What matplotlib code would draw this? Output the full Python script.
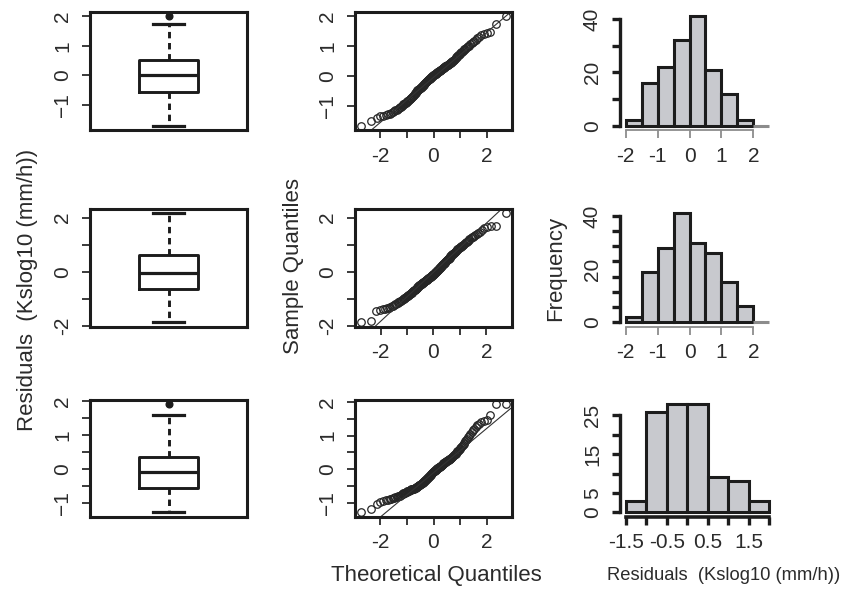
import statistics
import numpy as np
import matplotlib
matplotlib.use('Agg')
import matplotlib.pyplot as plt

plt.rcParams['font.family'] = ['Liberation Sans', 'DejaVu Sans']

res_1 = [-1.67, -1.52,
         -1.41, -1.36, -1.33, -1.31, -1.29, -1.27, -1.24, -1.21, -1.18, -1.15,
         -1.13, -1.10, -1.08, -1.06, -1.03, -1.01,
         -0.98, -0.96, -0.94, -0.92, -0.90, -0.88, -0.85, -0.83, -0.81, -0.79,
         -0.77, -0.75, -0.73, -0.71, -0.68, -0.66, -0.63, -0.61, -0.58, -0.56,
         -0.54, -0.52,
         -0.49, -0.48, -0.46, -0.45, -0.43, -0.42, -0.40, -0.38, -0.37, -0.35,
         -0.33, -0.32, -0.30, -0.28, -0.27, -0.25, -0.23, -0.22, -0.20, -0.18,
         -0.17, -0.15, -0.13, -0.12, -0.10, -0.09, -0.07, -0.06, -0.04, -0.03,
         -0.02, -0.01,
         0.01, 0.02, 0.03, 0.04, 0.05, 0.06, 0.07, 0.08, 0.10, 0.11, 0.12, 0.13,
         0.14, 0.15, 0.17, 0.18, 0.19, 0.20, 0.21, 0.22, 0.24, 0.25, 0.26, 0.27,
         0.28, 0.30, 0.31, 0.32, 0.33, 0.34, 0.36, 0.37, 0.38, 0.39, 0.41, 0.42,
         0.43, 0.45, 0.46, 0.48, 0.49,
         0.51, 0.53, 0.55, 0.57, 0.60, 0.62, 0.64, 0.67, 0.69, 0.71, 0.74, 0.76,
         0.79, 0.81, 0.84, 0.86, 0.89, 0.91, 0.94, 0.96, 0.99,
         1.02, 1.06, 1.10, 1.14, 1.18, 1.22, 1.27, 1.32, 1.38, 1.42, 1.45, 1.48,
         1.75, 2.00]

res_2 = [-1.85, -1.81,
         -1.44, -1.41, -1.37, -1.35, -1.34, -1.32, -1.29, -1.27, -1.24, -1.22,
         -1.19, -1.17, -1.15, -1.12, -1.10, -1.08, -1.06, -1.03, -1.01,
         -0.99, -0.97, -0.95, -0.94, -0.92, -0.90, -0.88, -0.86, -0.85, -0.83,
         -0.81, -0.79, -0.77, -0.76, -0.74, -0.72, -0.70, -0.68, -0.67, -0.65,
         -0.63, -0.61, -0.59, -0.58, -0.56, -0.54, -0.53, -0.51,
         -0.49, -0.48, -0.47, -0.46, -0.44, -0.43, -0.42, -0.41, -0.40, -0.38,
         -0.37, -0.36, -0.35, -0.34, -0.32, -0.31, -0.30, -0.29, -0.28, -0.26,
         -0.25, -0.24, -0.23, -0.22, -0.20, -0.19, -0.18, -0.17, -0.16, -0.14,
         -0.13, -0.12, -0.11, -0.10, -0.08, -0.07, -0.06, -0.05, -0.04, -0.02,
         -0.01,
         0.01, 0.03, 0.04, 0.06, 0.08, 0.09, 0.11, 0.13, 0.14, 0.16, 0.18, 0.19,
         0.21, 0.23, 0.24, 0.26, 0.28, 0.29, 0.31, 0.33, 0.34, 0.36, 0.38, 0.39,
         0.41, 0.43, 0.44, 0.46, 0.48, 0.49,
         0.51, 0.53, 0.55, 0.57, 0.59, 0.61, 0.63, 0.65, 0.67, 0.69, 0.71, 0.73,
         0.75, 0.77, 0.79, 0.81, 0.83, 0.85, 0.87, 0.89, 0.91, 0.93, 0.95, 0.97,
         0.98, 1.00,
         1.03, 1.06, 1.09, 1.12, 1.15, 1.18, 1.21, 1.24, 1.27, 1.30, 1.33, 1.36,
         1.40, 1.44, 1.48,
         1.56, 1.62, 1.66, 1.69, 1.70, 2.16]

res_3 = [-1.28, -1.18, -1.02, -0.97, -0.94, -0.92, -0.91, -0.89, -0.88, -0.86,
         -0.85, -0.83, -0.82, -0.80, -0.79, -0.78, -0.76, -0.75, -0.73, -0.72,
         -0.71, -0.70, -0.69, -0.67, -0.66, -0.65, -0.64, -0.63, -0.62, -0.61,
         -0.60, -0.60, -0.59, -0.58, -0.58, -0.57, -0.56,
         -0.55, -0.54, -0.53, -0.52, -0.51, -0.50, -0.48, -0.47,
         -0.46, -0.45, -0.44, -0.42, -0.41, -0.40, -0.39, -0.38, -0.36, -0.35,
         -0.34, -0.32, -0.31, -0.30, -0.28, -0.27, -0.25, -0.24, -0.22, -0.21,
         -0.20, -0.18, -0.17, -0.15, -0.14, -0.12, -0.11, -0.09, -0.08, -0.06,
         -0.05, -0.04, -0.03, -0.02, -0.01, 0.00, 0.01, 0.03, 0.04,
         0.05, 0.06, 0.07, 0.08, 0.09, 0.10, 0.11, 0.12, 0.14, 0.15,
         0.16, 0.17, 0.18, 0.19, 0.20, 0.21, 0.22, 0.23, 0.25, 0.26,
         0.27, 0.28, 0.29, 0.30, 0.31, 0.32, 0.34, 0.35,
         0.37, 0.39, 0.41, 0.43, 0.44, 0.46, 0.48,
         0.50, 0.53, 0.55, 0.58, 0.60, 0.63, 0.66, 0.69, 0.72, 0.75,
         0.79, 0.83, 0.87, 0.91, 0.95, 1.00, 1.05, 1.10, 1.15, 1.20,
         1.25, 1.30, 1.35, 1.40, 1.44, 1.47, 1.61, 1.93, 1.94]

# Estadisticos de los diagramas de caja: bigote inf, Q1, mediana, Q3, bigote sup
caja_1 = [-1.70, -0.55, 0.00, 0.52, 1.75]
atipicos_1 = [2.00]
caja_2 = [-1.85, -0.62, -0.04, 0.62, 2.16]
atipicos_2 = []
caja_3 = [-1.27, -0.56, -0.07, 0.35, 1.61]
atipicos_3 = [1.93]

# Histogramas (frecuencias por intervalo)
bordes_1 = [-2.0, -1.5, -1.0, -0.5, 0.0, 0.5, 1.0, 1.5, 2.0, 2.5]
frec_1 = [2, 16, 22, 32, 41, 21, 12, 2, 0]
bordes_2 = [-2.0, -1.5, -1.0, -0.5, 0.0, 0.5, 1.0, 1.5, 2.0, 2.5]
frec_2 = [2, 19, 28, 41, 30, 26, 15, 6, 0]
bordes_3 = [-1.5, -1.0, -0.5, 0.0, 0.5, 1.0, 1.5, 2.0]
frec_3 = [3, 26, 28, 28, 9, 8, 3]

# Marcas de los ejes
MENOS = '\u2212'
yt_1 = [-1, 0, 1, 2]
yl_1 = [MENOS + '1', '0', '1', '2']
yt_2 = [-2, -1, 0, 1, 2]
yl_2 = ['-2', '', '0', '', '2']
yt_3 = [-1, -0.5, 0, 0.5, 1, 1.5, 2]
yl_3 = [MENOS + '1', '', '0', '', '1', '', '2']
qx_t = [-2, -1, 0, 1, 2]
qx_l = ['-2', '', '0', '', '2']
hx_t_12 = [-2, -1, 0, 1, 2]
hx_l_12 = ['-2', '-1', '0', '1', '2']
hx_t_3 = [-1.5, -1.0, -0.5, 0.0, 0.5, 1.0, 1.5, 2.0]
hx_l_3 = ['-1.5', '', '-0.5', '', '0.5', '', '1.5', '']
# histogramas: posiciones de las marcas y de las etiquetas del eje y
hy_t_1 = [0, 10, 20, 30, 40]
hy_e_1 = [0, 20, 40]
hy_t_2 = list(np.linspace(0, 40, 8))
hy_e_2 = [0, 20, 40]
hy_t_3 = [0, 5, 10, 15, 20, 25]
hy_e_3 = [0, 5, 15, 25]

NEGRO = '#1c1c1c'
TEXTO = '#2b2b2b'
GRIS = '#8c8c8c'
RELLENO = '#c8c9ce'
FS = 15

W, H = 844, 592
fig = plt.figure(figsize=(W / 100, H / 100), dpi=100)


def ejes_px(x0, y0, x1, y1):
    return fig.add_axes([x0 / W, 1 - y1 / H, (x1 - x0) / W, (y1 - y0) / H])


def eje_y(ax, ticks, labels, ancho=1.3, color=TEXTO):
    ax.set_yticks(ticks, labels)
    ax.tick_params(axis='y', labelsize=FS, labelcolor=TEXTO, length=6, width=ancho,
                   color=color, pad=7, labelrotation=90)
    for t in ax.get_yticklabels():
        t.set_va('center')


def marco(ax):
    for s in ax.spines.values():
        s.set_linewidth(2.2)
        s.set_color(NEGRO)


cols = [(90, 247), (355, 512), (620, 775)]
filas = [(12, 130), (209, 326.5), (399.5, 516.7)]

datos = [
    (res_1, caja_1, atipicos_1, bordes_1, frec_1, yt_1, yl_1, hx_t_12, hx_l_12, hy_t_1, hy_e_1),
    (res_2, caja_2, atipicos_2, bordes_2, frec_2, yt_2, yl_2, hx_t_12, hx_l_12, hy_t_2, hy_e_2),
    (res_3, caja_3, atipicos_3, bordes_3, frec_3, yt_3, yl_3, hx_t_3, hx_l_3, hy_t_3, hy_e_3),
]

normal = statistics.NormalDist()

for k, (res, caja, atip, bordes, frec, yt, yl, hxt, hxl, hyt, hye) in enumerate(datos):
    y0, y1 = filas[k]

    # Diagrama de caja
    ax = ejes_px(cols[0][0], y0, cols[0][1], y1)
    stats = dict(whislo=caja[0], q1=caja[1], med=caja[2], q3=caja[3], whishi=caja[4],
                 fliers=atip)
    ax.bxp([stats], positions=[1], widths=[0.376], capwidths=[0.2], manage_ticks=False,
           boxprops=dict(lw=2.1, color=NEGRO),
           medianprops=dict(lw=2.3, color=NEGRO),
           whiskerprops=dict(lw=2.1, color=NEGRO, linestyle=(0, (2.2, 1.6))),
           capprops=dict(lw=2.3, color=NEGRO),
           flierprops=dict(marker='o', ms=4.8, mfc=NEGRO, mec=NEGRO))
    ax.set_xlim(0.5, 1.5)
    ax.margins(y=0.04)
    ax.set_xticks([])
    eje_y(ax, yt, yl)
    marco(ax)

    # Grafica Q-Q
    ax = ejes_px(cols[1][0], y0, cols[1][1], y1)
    n = len(res)
    teo = [normal.inv_cdf((i + 0.5) / n) for i in range(n)]
    ax.plot(teo, sorted(res), 'o', mfc='none', mec='#262626', ms=5.4, mew=0.9)
    q1, q3 = np.percentile(res, [25, 75])
    z1, z3 = normal.inv_cdf(0.25), normal.inv_cdf(0.75)
    ax.axline((z1, q1), slope=(q3 - q1) / (z3 - z1), color='#333333', lw=0.8)
    ax.margins(0.04)
    ax.set_xticks(qx_t, qx_l)
    ax.tick_params(axis='x', labelsize=FS, labelcolor=TEXTO, length=6, width=1.3,
                   color=TEXTO, pad=6)
    eje_y(ax, yt, yl)
    marco(ax)

    # Histograma
    ax = ejes_px(cols[2][0], y0, cols[2][1], y1)
    bordes = np.array(bordes)
    bordes_color = [NEGRO if f > 0 else GRIS for f in frec]
    ax.bar(bordes[:-1], frec, width=np.diff(bordes), align='edge', color=RELLENO,
           edgecolor=bordes_color, lw=2.2)
    ax.use_sticky_edges = False
    ax.margins(0.04)
    for s in ['top', 'right']:
        ax.spines[s].set_visible(False)
    ax.spines['left'].set_bounds(hyt[0], hyt[-1])
    ax.spines['left'].set_linewidth(2.4)
    ax.spines['left'].set_color(NEGRO)
    ax.spines['bottom'].set_bounds(hxt[0], hxt[-1])
    ax.set_xticks(hxt, hxl)
    if k < 2:
        ax.spines['bottom'].set_color(GRIS)
        ax.spines['bottom'].set_linewidth(1.3)
        ax.tick_params(axis='x', color=GRIS, width=1.3, length=6)
    else:
        ax.spines['bottom'].set_color(NEGRO)
        ax.spines['bottom'].set_linewidth(2.6)
        ax.tick_params(axis='x', color=NEGRO, width=2.4, length=6)
    ax.tick_params(axis='x', labelsize=FS, labelcolor=TEXTO, pad=6)
    # etiquetas en las marcas mayores (sin raya), rayas en las menores
    ax.yaxis.remove_overlapping_locs = False
    ax.set_yticks(hye, [str(v) for v in hye])
    ax.set_yticks(hyt, minor=True)
    ax.tick_params(axis='y', which='major', length=0, pad=13, labelsize=FS,
                   labelcolor=TEXTO, labelrotation=90)
    ax.tick_params(axis='y', which='minor', length=6, width=2.4, color=NEGRO)
    for t in ax.get_yticklabels():
        t.set_va('center')

# Titulos de los ejes
fig.text(28 / W, 1 - 290 / H, 'Residuals  (Kslog10 (mm/h))', rotation=90, ha='center',
         va='center', fontsize=16, color=TEXTO)
fig.text(293 / W, 1 - 266 / H, 'Sample Quantiles', rotation=90, ha='center', va='center',
         fontsize=16, color=TEXTO)
fig.text(556 / W, 1 - 268 / H, 'Frequency', rotation=90, ha='center', va='center',
         fontsize=16, color=TEXTO)
fig.text(436 / W, 1 - 576 / H, 'Theoretical Quantiles', ha='center', va='center',
         fontsize=16, color=TEXTO)
fig.text(724 / W, 1 - 576 / H, 'Residuals  (Kslog10 (mm/h))', ha='center', va='center',
         fontsize=13.2, color=TEXTO)

fig.savefig('out.png', dpi=100)
